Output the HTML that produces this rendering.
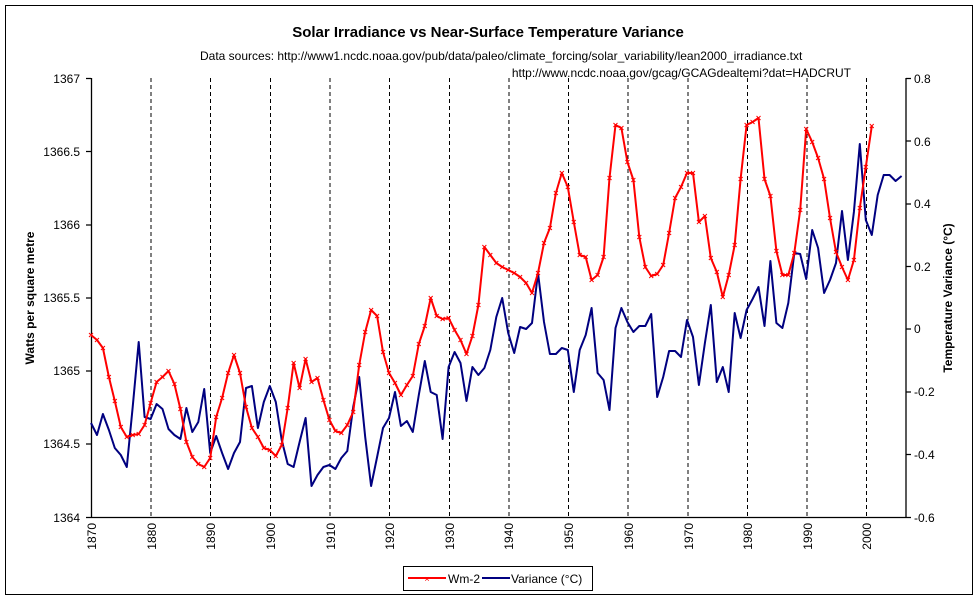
<!DOCTYPE html>
<html><head><meta charset="utf-8"><style>
body{margin:0;background:#fff}
svg{display:block;font-family:"Liberation Sans",Arial,sans-serif}
</style></head><body>
<svg width="977" height="600" viewBox="0 0 977 600" xmlns="http://www.w3.org/2000/svg">
<rect x="0" y="0" width="977" height="600" fill="#fff"/>
<rect x="5.5" y="5.5" width="967" height="589" fill="none" stroke="#000" stroke-width="1"/>
<text x="488" y="37" font-size="15" font-weight="bold" text-anchor="middle">Solar Irradiance vs Near-Surface Temperature Variance</text>
<text x="200" y="60" font-size="12">Data sources: http://www1.ncdc.noaa.gov/pub/data/paleo/climate_forcing/solar_variability/lean2000_irradiance.txt</text>
<text x="851" y="77" font-size="12" text-anchor="end">http://www.ncdc.noaa.gov/gcag/GCAGdealtemi?dat=HADCRUT</text>
<g stroke="#000" stroke-dasharray="4,3" stroke-width="1">
<line x1="151" y1="78" x2="151" y2="517"/><line x1="210.5" y1="78" x2="210.5" y2="517"/><line x1="270.5" y1="78" x2="270.5" y2="517"/><line x1="330" y1="78" x2="330" y2="517"/><line x1="389.5" y1="78" x2="389.5" y2="517"/><line x1="449.5" y1="78" x2="449.5" y2="517"/><line x1="509" y1="78" x2="509" y2="517"/><line x1="568.5" y1="78" x2="568.5" y2="517"/><line x1="628" y1="78" x2="628" y2="517"/><line x1="688" y1="78" x2="688" y2="517"/><line x1="747.5" y1="78" x2="747.5" y2="517"/><line x1="807" y1="78" x2="807" y2="517"/><line x1="866.5" y1="78" x2="866.5" y2="517"/>
</g>
<g stroke="#000" stroke-width="1.3" fill="none">
<line x1="91.5" y1="78" x2="91.5" y2="517.5"/>
<line x1="906" y1="78" x2="906" y2="517.5"/>
<line x1="91" y1="517.5" x2="906" y2="517.5"/>
<path d="M86 78.5h5M86 151.5h5M86 225h5M86 298h5M86 371h5M86 444h5M86 517.5h5"/>
<path d="M906 78.5h5M906 141h5M906 204h5M906 266.5h5M906 329h5M906 392h5M906 454.5h5M906 517.5h5"/>
</g>
<g font-size="12" text-anchor="end">
<text x="80" y="83">1367</text><text x="80" y="156">1366.5</text><text x="80" y="229">1366</text><text x="80" y="302">1365.5</text><text x="80" y="375">1365</text><text x="80" y="448">1364.5</text><text x="80" y="522">1364</text>
</g>
<g font-size="12">
<text x="914" y="83">0.8</text><text x="914" y="146">0.6</text><text x="914" y="208">0.4</text><text x="914" y="271">0.2</text><text x="914" y="333">0</text><text x="914" y="396">-0.2</text><text x="914" y="459">-0.4</text><text x="914" y="522">-0.6</text>
</g>
<g font-size="12" text-anchor="end">
<text transform="translate(96,523) rotate(-90)">1870</text><text transform="translate(156,523) rotate(-90)">1880</text><text transform="translate(215,523) rotate(-90)">1890</text><text transform="translate(275,523) rotate(-90)">1900</text><text transform="translate(335,523) rotate(-90)">1910</text><text transform="translate(394,523) rotate(-90)">1920</text><text transform="translate(454,523) rotate(-90)">1930</text><text transform="translate(513,523) rotate(-90)">1940</text><text transform="translate(573,523) rotate(-90)">1950</text><text transform="translate(633,523) rotate(-90)">1960</text><text transform="translate(693,523) rotate(-90)">1970</text><text transform="translate(752,523) rotate(-90)">1980</text><text transform="translate(812,523) rotate(-90)">1990</text><text transform="translate(871,523) rotate(-90)">2000</text>
</g>
<text transform="translate(34,298) rotate(-90)" font-size="12" font-weight="bold" text-anchor="middle">Watts per square metre</text>
<text transform="translate(952,298) rotate(-90)" font-size="12" font-weight="bold" text-anchor="middle">Temperature Variance (°C)</text>
<g id="plot"></g>
<g>
<rect x="403.5" y="566.5" width="189" height="24" fill="#fff" stroke="#000"/>
<line x1="408" y1="578" x2="446" y2="578" stroke="#f00" stroke-width="2"/>
<text x="427" y="582" fill="#f00" font-size="9" text-anchor="middle">×</text>
<text x="448" y="583" font-size="12">Wm-2</text>
<line x1="482" y1="578" x2="510" y2="578" stroke="#000080" stroke-width="2"/>
<text x="511" y="583" font-size="12">Variance (°C)</text>
</g>
<script>
var red=[335,340,348,377,401,427,437,435,434,425,403,382,377,371,384,409,442,457,464,467,458,417,398,373,355,373,407,428,437,448,450,456,445,408,363,388,359,382,378,400,420,431,433,425,412,365,332,310,316,352,373,383,395,385,376,344,326,298,316,319,318,330,340,354,336,305,247,255,263,267,270,273,277,283,293,273,243,228,193,173,187,222,255,257,280,275,257,178,125,128,162,180,237,267,276,274,265,233,198,187,173,173,222,216,258,272,297,275,245,179,125,122,118,179,196,251,275,275,253,210,129,142,158,179,218,252,267,280,260,208,167,126];
var blue=[423,435,414,430,448,455,467,407,342,417,419,404,409,429,435,439,408,432,422,389,453,436,453,469,453,442,388,386,428,402,386,402,440,464,467,442,418,486,475,467,465,469,458,451,407,377,437,486,457,428,418,392,426,421,432,395,361,392,395,439,367,352,363,401,367,375,368,350,317,298,333,353,327,329,323,273,322,354,354,348,350,392,350,335,308,373,380,410,328,308,322,332,326,326,314,397,377,351,351,357,320,337,385,343,305,382,367,392,313,338,310,299,287,326,261,323,328,303,253,254,279,230,248,293,280,263,211,260,212,144,220,235,195,175,175,181,176];
function X(i){return 91+i*5.96;}
var ns="http://www.w3.org/2000/svg",g=document.getElementById("plot");
function pl(d,c){var p=document.createElementNS(ns,"polyline");p.setAttribute("points",d.map(function(v,i){return X(i).toFixed(1)+","+v;}).join(" "));p.setAttribute("fill","none");p.setAttribute("stroke",c);p.setAttribute("stroke-width","2");p.setAttribute("stroke-linejoin","round");g.appendChild(p);}
pl(blue,"#000080");pl(red,"#ff0000");
var s="";red.forEach(function(v,i){var x=X(i);s+="M"+(x-2)+" "+(v-2)+"l4 4M"+(x+2)+" "+(v-2)+"l-4 4";});
var m=document.createElementNS(ns,"path");m.setAttribute("d",s);m.setAttribute("stroke","#f00");m.setAttribute("stroke-width","1");g.appendChild(m);
</script>
</svg>
</body></html>
